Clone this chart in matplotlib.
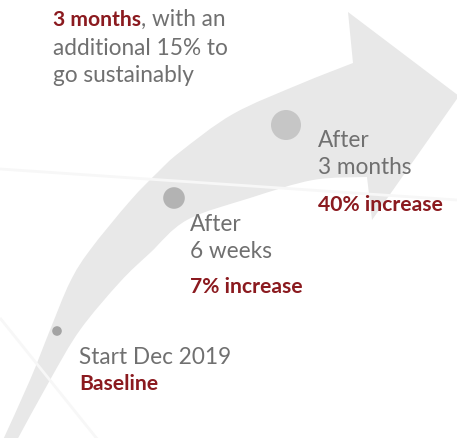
import matplotlib
matplotlib.use("Agg")
import matplotlib.pyplot as plt
from matplotlib.path import Path
from matplotlib.patches import PathPatch, Circle
import numpy as np

# ---- data ----
milestone_titles = ["Start Dec 2019", "After\n6 weeks", "After\n3 months"]
milestone_results = ["Baseline", "7% increase", "40% increase"]
headline_bold = "3 months"
headline_rest = [", with an", "additional 15% to", "go sustainably"]

# ---- styling / layout ----
W, H = 457, 438
RED = "#8b1a1f"
GREY_TXT = "#707070"
ARROW = "#e8e8e8"
FONT = "Lato"
FS = 16.3
FSB = 15.2

dot_pos = [(57, 331), (174, 198), (286, 125)]
dot_r = [4.8, 10.8, 15.0]
dot_col = ["#a3a3a3", "#b3b3b3", "#c6c6c6"]
title_pos = [(79, 364), (190, 231), (318, 147)]
result_pos = [(79, 390), (190, 293), (318, 211)]

fig = plt.figure(figsize=(W / 100, H / 100), dpi=100)
ax = fig.add_axes([0, 0, 1, 1])
ax.set_xlim(0, W)
ax.set_ylim(H, 0)
ax.axis("off")


def catmull_bezier(pts):
    pts = np.asarray(pts, float)
    P = np.vstack([pts[0], pts, pts[-1]])
    verts, codes = [], []
    for i in range(1, len(P) - 2):
        p0, p1, p2, p3 = P[i - 1], P[i], P[i + 1], P[i + 2]
        c1 = p1 + (p2 - p0) / 6.0
        c2 = p2 - (p3 - p1) / 6.0
        verts += [tuple(c1), tuple(c2), tuple(p2)]
        codes += [Path.CURVE4] * 3
    return verts, codes


outer = [(2, 442), (30, 380), (50, 330), (70, 282), (90, 250), (130, 201),
         (158, 172), (180, 152), (233, 114), (300, 84), (353, 63)]
inner = [(367, 177), (313, 180), (250, 198), (187, 220), (150, 253),
         (120, 282), (80, 330), (50, 380), (16, 442)]

verts = [outer[0]]
codes = [Path.MOVETO]
v, c = catmull_bezier(outer)
verts += v; codes += c
for p in [(348, 12), (459, 96), (372, 220), (367, 177)]:
    verts.append(p); codes.append(Path.LINETO)
v, c = catmull_bezier(inner)
verts += v; codes += c
verts.append(outer[0]); codes.append(Path.CLOSEPOLY)
ax.add_patch(PathPatch(Path(verts, codes), facecolor=ARROW, edgecolor="none", zorder=1))

# faint decorative lines
ax.plot([0, 457], [169, 200], color="#f7f7f7", lw=2.0, zorder=2, solid_capstyle="butt")
ax.plot([0, 98], [318, 440], color="#f7f7f7", lw=2.0, zorder=2, solid_capstyle="butt")

# dots
for (x, y), r, col in zip(dot_pos, dot_r, dot_col):
    ax.add_patch(Circle((x, y), r, facecolor=col, edgecolor="none", zorder=3))

# milestone texts
for (x, y), t in zip(title_pos, milestone_titles):
    for k, line in enumerate(t.split("\n")):
        ax.text(x, y + 27 * k, line, fontsize=FS, color=GREY_TXT, family=FONT,
                va="baseline", ha="left", zorder=4)
for (x, y), t in zip(result_pos, milestone_results):
    ax.text(x, y, t, fontsize=FSB, color=RED, family=FONT, fontweight="bold",
            va="baseline", ha="left", zorder=4)

# headline
t1 = ax.text(53, 26, headline_bold, fontsize=FSB, color=RED, family=FONT,
             fontweight="bold", va="baseline", ha="left", zorder=4)
fig.canvas.draw()
r = fig.canvas.get_renderer()
bb = t1.get_window_extent(renderer=r)
x_end = ax.transData.inverted().transform((bb.x1, bb.y0))[0]
ax.text(x_end, 26, headline_rest[0], fontsize=FS, color=GREY_TXT, family=FONT,
        va="baseline", ha="left", zorder=4)
ax.text(53, 55, headline_rest[1], fontsize=FS, color=GREY_TXT, family=FONT,
        va="baseline", ha="left", zorder=4)
ax.text(53, 82, headline_rest[2], fontsize=FS, color=GREY_TXT, family=FONT,
        va="baseline", ha="left", zorder=4)

fig.savefig("out.png", dpi=100)
